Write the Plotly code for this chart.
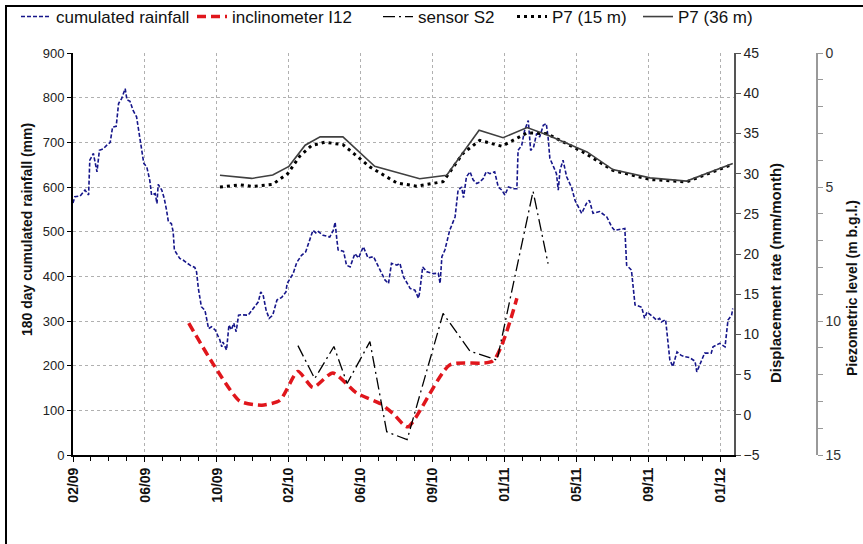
import pandas as pd
import plotly.graph_objects as go

# ---------------- data ----------------
START = "2009-02-06"   # day 0 of the record (first axis tick)

rain_day = [0, 3, 12, 20, 26, 28, 34, 40, 44, 50,
            56, 62, 66, 72, 76, 81, 87, 90, 95, 100,
            106, 112, 114, 118, 123, 128, 131, 137, 140, 142,
            148, 152, 156, 159, 164, 167, 169, 172, 178, 184,
            192, 195, 203, 206, 209, 214, 220, 226, 231, 237,
            245, 248, 250, 256, 260, 264, 268, 272, 276, 281,
            292, 298, 306, 309, 313, 317, 322, 327, 333, 340,
            348, 355, 357, 367, 373, 381, 388, 395, 400, 406,
            409, 417, 428, 434, 437, 440, 442, 451, 456, 462,
            470, 476, 484, 492, 501, 512, 520, 526, 531, 540,
            545, 551, 562, 570, 576, 578, 583, 590, 601, 609,
            612, 615, 620, 628, 637, 642, 648, 651, 656, 662,
            667, 673, 678, 684, 689, 695, 703, 709, 715, 720,
            726, 734, 740, 742, 748, 753, 759, 763, 768, 773,
            778, 784, 789, 792, 795, 800, 806, 809, 812, 817,
            823, 828, 831, 837, 842, 848, 856, 861, 867, 878,
            890, 898, 903, 920, 923, 931, 937, 948, 953, 957,
            967, 973, 978, 981, 988, 995, 1000, 1007, 1014, 1020,
            1028, 1037, 1040, 1048, 1053, 1064, 1067, 1078, 1087, 1092,
            1098, 1100]
rain_mm = [564, 578, 580, 593, 582, 660, 675, 634, 682, 685,
           693, 700, 734, 736, 787, 798, 820, 795, 792, 772,
           757, 705, 690, 653, 645, 615, 582, 585, 563, 606,
           593, 575, 548, 522, 518, 500, 459, 452, 440, 436,
           429, 425, 420, 410, 373, 332, 324, 283, 287, 280,
           257, 242, 253, 235, 291, 280, 295, 276, 313, 314,
           313, 324, 336, 343, 365, 358, 324, 306, 313, 347,
           353, 365, 384, 406, 431, 447, 455, 485, 503, 496,
           500, 492, 488, 503, 521, 481, 459, 456, 425, 421,
           451, 441, 466, 441, 444, 414, 392, 384, 429, 425,
           429, 399, 373, 369, 351, 365, 421, 410, 406, 407,
           384, 444, 459, 503, 533, 593, 600, 576, 623, 634,
           616, 608, 611, 619, 634, 630, 634, 600, 593, 582,
           600, 596, 596, 682, 693, 727, 749, 682, 690, 720,
           712, 738, 742, 712, 664, 649, 630, 593, 638, 660,
           623, 608, 600, 570, 555, 541, 563, 570, 541, 545,
           533, 511, 503, 507, 425, 414, 336, 331, 306, 320,
           309, 302, 306, 298, 303, 213, 198, 231, 223, 220,
           218, 210, 186, 210, 228, 228, 242, 250, 242, 302,
           313, 328]

incl_day = [193, 233, 278, 315, 345, 375, 400, 433, 473, 512, 533, 558, 628, 700, 740]
incl_rate = [11.4, 6.4, 1.7, 1.2, 1.8, 5.4, 3.4, 5.2, 2.7, 1.4, 0.2, -1.5, 6.2, 6.7, 14.5]

s2_day = [375, 403, 435, 457, 495, 523, 557, 617, 662, 707, 767, 792]
s2_rate = [8.6, 4.5, 8.5, 3.9, 9.1, -2.1, -3.1, 12.6, 7.9, 6.8, 27.8, 18.8]

p15_day = [245, 278, 300, 333, 358, 378, 398, 420, 450, 495, 540, 573,
           617, 650, 678, 715, 757, 790, 850, 900, 962, 1023, 1100]
p15_lvl = [5.0, 4.92, 4.98, 4.9, 4.5, 3.85, 3.45, 3.33, 3.42, 4.25, 4.85, 4.97,
           4.8, 3.75, 3.26, 3.48, 2.98, 3.01, 3.69, 4.38, 4.72, 4.81, 4.15]

p36_day = [245, 298, 333, 360, 387, 412, 450, 503, 578, 623, 677, 717,
           757, 792, 857, 900, 962, 1023, 1100]
p36_lvl = [4.56, 4.68, 4.55, 4.23, 3.44, 3.13, 3.13, 4.23, 4.69, 4.56, 2.88, 3.16,
           2.78, 3.07, 3.69, 4.35, 4.66, 4.78, 4.12]

X_END_DAY = 1102
TICK_DAYS = 120
MINOR_DAYS = 30


def to_dates(days):
    return pd.Timestamp(START) + pd.to_timedelta(days, unit="D")


# --------------- figure ---------------
FONT = "Liberation Sans, Arial, sans-serif"
L, R, T, B = 73, 20, 53, 89
W, H = 863, 544
PW, PH = W - L - R, H - T - B


def px(xp):
    return (xp - L) / PW


def py(yp):
    return (H - B - yp) / PH


fig = go.Figure()

fig.add_trace(go.Scatter(
    x=to_dates(rain_day), y=rain_mm, name="cumulated rainfall", mode="lines",
    line=dict(color="#16168a", width=1.6, dash="4px,2px"), yaxis="y", legend="legend"))
fig.add_trace(go.Scatter(
    x=to_dates(incl_day), y=incl_rate, name="inclinometer I12", mode="lines",
    line=dict(color="#e0161c", width=3.5, dash="9px,5px", shape="spline", smoothing=0.6),
    yaxis="y2", legend="legend2"))
fig.add_trace(go.Scatter(
    x=to_dates(s2_day), y=s2_rate, name="sensor S2", mode="lines",
    line=dict(color="#000000", width=1.3, dash="12px,4px,2px,4px"), yaxis="y2",
    legend="legend3"))
fig.add_trace(go.Scatter(
    x=to_dates(p15_day), y=p15_lvl, name="P7 (15 m)", mode="lines",
    line=dict(color="#000000", width=3, dash="3px,4px"), yaxis="y3", legend="legend4"))
fig.add_trace(go.Scatter(
    x=to_dates(p36_day), y=p36_lvl, name="P7 (36 m)", mode="lines",
    line=dict(color="#404040", width=1.6), yaxis="y3", legend="legend5"))

x_end = pd.Timestamp(START) + pd.Timedelta(days=X_END_DAY)
DAY_MS = 86400000


def leg(xtext):
    return dict(orientation="h", x=px(xtext - 46), y=py(17), xanchor="left",
                yanchor="middle", font=dict(size=17, color="#111"),
                bgcolor="rgba(0,0,0,0)", itemwidth=30)


def vtitle(text, xc, yc, size):
    return dict(text="<b>" + text + "</b>", textangle=-90, xref="paper", yref="paper",
                x=px(xc), y=py(yc), xanchor="center", yanchor="middle", showarrow=False,
                font=dict(size=size, color="#111"))


fig.update_layout(
    width=W, height=H,
    margin=dict(l=L, r=R, t=T, b=B, pad=0, autoexpand=False),
    paper_bgcolor="white", plot_bgcolor="white",
    font=dict(family=FONT, size=13, color="#222"),
    showlegend=True,
    legend=leg(62), legend2=leg(238), legend3=leg(424), legend4=leg(558), legend5=leg(684),
    xaxis=dict(
        type="date", domain=[0, px(734)],
        range=[pd.Timestamp(START), x_end],
        tick0=START, dtick=TICK_DAYS * DAY_MS, tickformat="%m/%y",
        tickangle=-90, tickfont=dict(size=14, weight="bold", color="#111"),
        ticks="outside", ticklen=5, tickcolor="#000",
        minor=dict(dtick=MINOR_DAYS * DAY_MS, tick0=START, ticks="outside", ticklen=4,
                   tickcolor="#000", showgrid=False),
        showgrid=True, gridcolor="#b0b0b0", griddash="dot", gridwidth=1,
        showline=True, linecolor="#000", linewidth=2, zeroline=False,
    ),
    yaxis=dict(
        range=[0, 900], dtick=100, ticks="outside", ticklen=4, tickcolor="#000",
        tickfont=dict(size=13, color="#222"),
        showgrid=True, gridcolor="#b0b0b0", griddash="dot", gridwidth=1,
        showline=True, linecolor="#000", linewidth=2, zeroline=False,
    ),
    yaxis2=dict(
        overlaying="y", side="right", anchor="x",
        range=[-5, 45], dtick=5, ticks="outside", ticklen=5, tickcolor="#555",
        tickfont=dict(size=14, color="#222"),
        showgrid=False, showline=True, linecolor="#555", linewidth=1.5, zeroline=False,
    ),
    yaxis3=dict(
        overlaying="y", side="right", anchor="free", position=px(817),
        range=[15, 0], dtick=5, ticks="outside", ticklen=5, tickcolor="#999",
        minor=dict(dtick=1, ticks="outside", ticklen=5, tickcolor="#999", showgrid=False),
        tickfont=dict(size=14, color="#333"),
        showgrid=False, showline=True, linecolor="#999", linewidth=1.5, zeroline=False,
    ),
    annotations=[
        vtitle("180 day cumulated rainfall (mm)", 27, 230, 14),
        vtitle("Displacement rate (mm/month)", 775, 273, 15),
        vtitle("Piezometric level (m b.g.l.)", 852, 288, 14),
    ],
    shapes=[
        dict(type="rect", xref="paper", yref="paper",
             x0=px(6), x1=px(875), y0=py(555), y1=py(6),
             line=dict(color="#000", width=2), fillcolor="rgba(0,0,0,0)", layer="below"),
    ],
)

fig.write_html("out.html", config={"displayModeBar": False},
               post_script="document.body.style.margin='0px';")
